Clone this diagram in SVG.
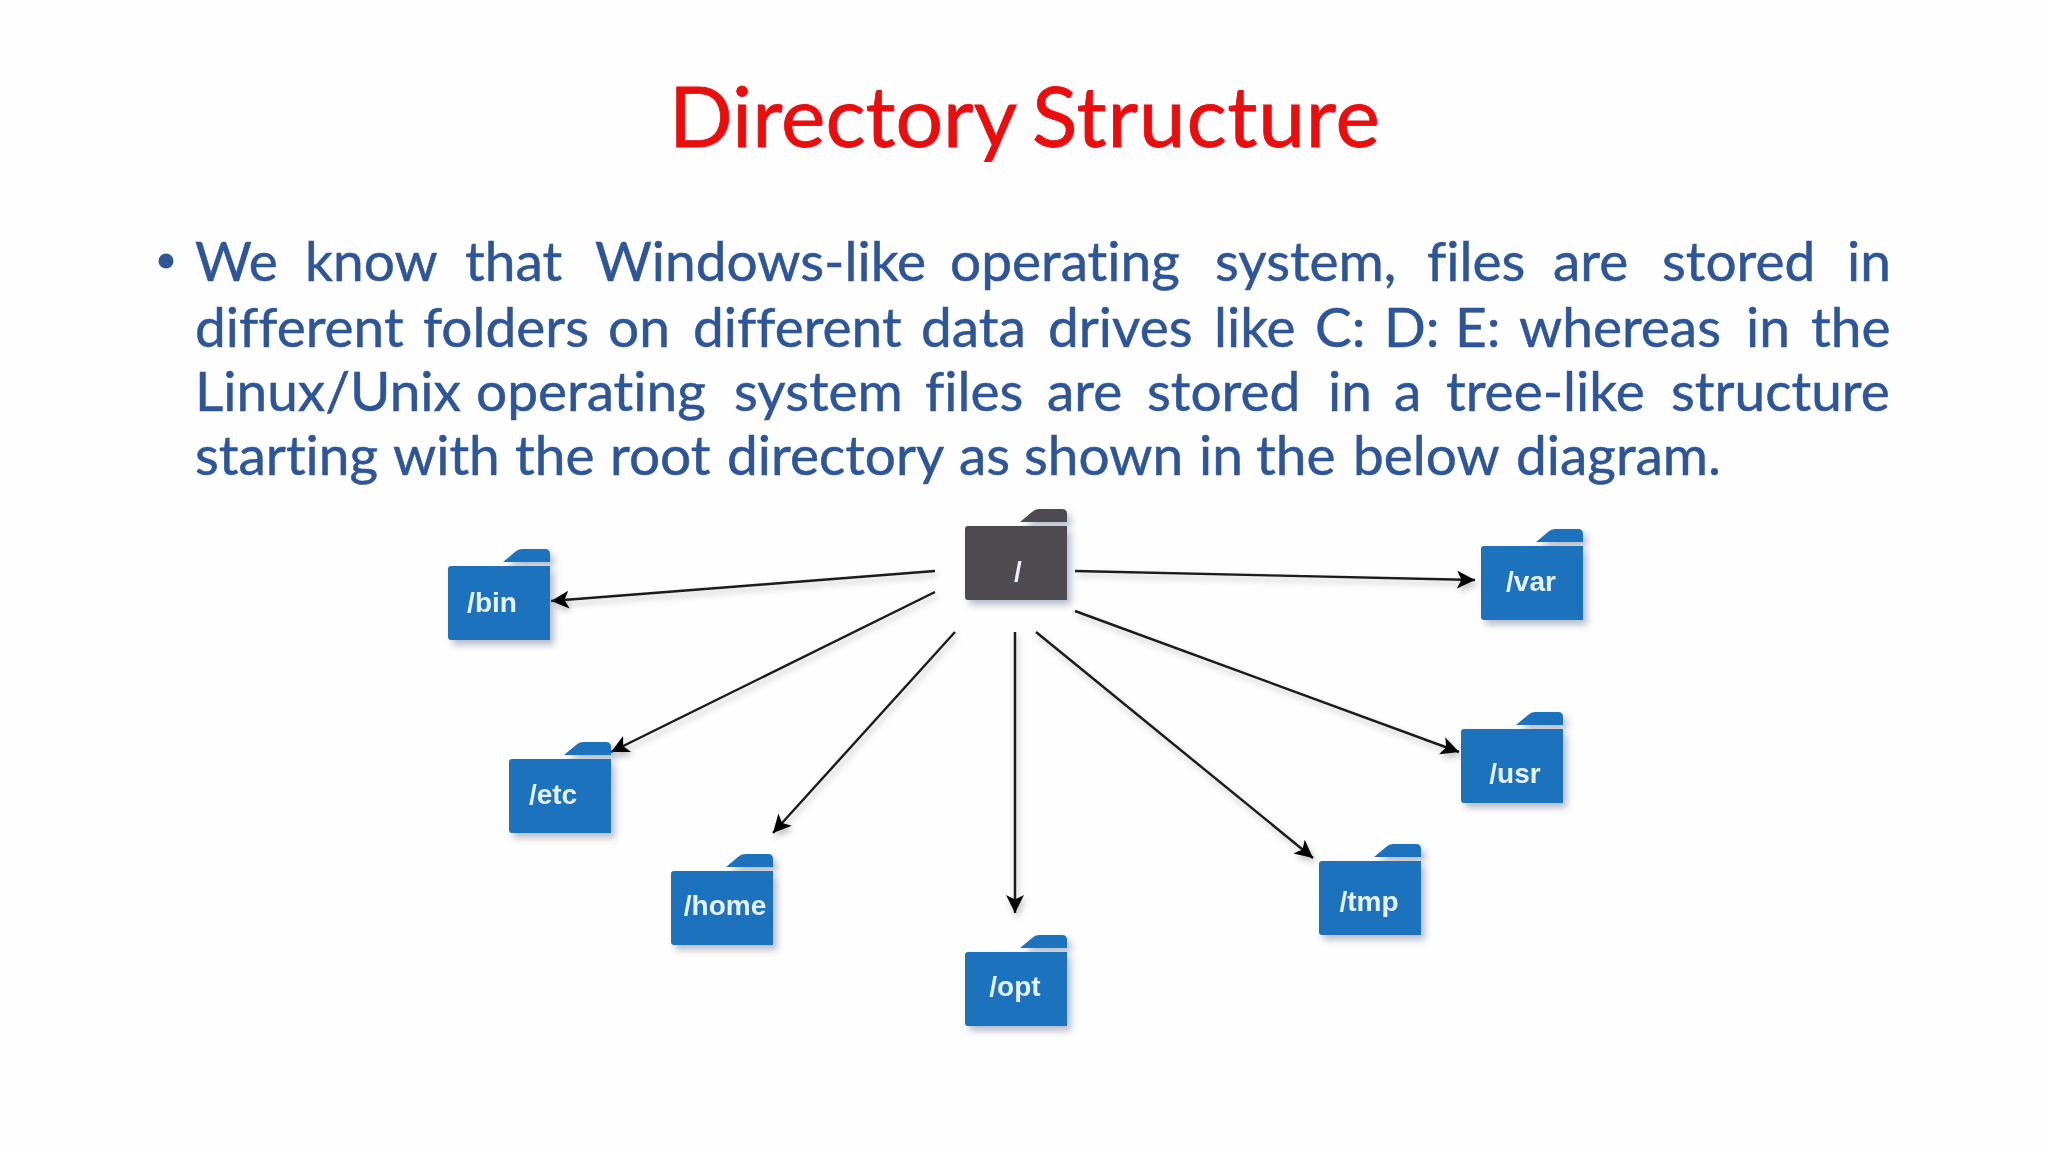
<svg xmlns="http://www.w3.org/2000/svg" width="2048" height="1152" viewBox="0 0 2048 1152">
<style>
text{font-variant-ligatures:none}
.title{font-family:Lato,"Liberation Sans",sans-serif;font-size:84px;fill:#ea0a10;stroke:#ea0a10;stroke-width:.8px;filter:url(#soft)}
.body{font-family:Lato,"Liberation Sans",sans-serif;font-size:55px;fill:#2f5597;stroke:#2f5597;stroke-width:.5px;filter:url(#soft)}
.lbl{font-family:"Liberation Sans",Arial,sans-serif;font-size:28px;font-weight:700;fill:#e6f1fa;filter:url(#soft)}
.blue{fill:#1f72bd}
.dark{fill:#4d4b4f}
.link{stroke:#1a1a1a;stroke-width:2.4;fill:none;marker-end:url(#arrow)}
</style>
<defs>
<filter id="soft" x="-2%" y="-10%" width="104%" height="120%"><feGaussianBlur stdDeviation="0.5"/></filter>
<filter id="sh" x="-20%" y="-20%" width="150%" height="150%"><feGaussianBlur in="SourceAlpha" stdDeviation="3.5"/><feOffset dx="4" dy="5"/><feComponentTransfer result="s"><feFuncA type="linear" slope="0.4"/></feComponentTransfer><feFlood flood-color="#4a5a80"/><feComposite in2="s" operator="in"/><feMerge><feMergeNode/><feMergeNode in="SourceGraphic"/></feMerge></filter>
<filter id="lsh" x="-5%" y="-5%" width="110%" height="110%"><feDropShadow dx="2" dy="4" stdDeviation="3" flood-color="#000" flood-opacity="0.25"/></filter>
<marker id="arrow" markerUnits="userSpaceOnUse" markerWidth="22" markerHeight="20" refX="18" refY="9" orient="auto"><path d="M0 0L18 9L0 18L4.5 9Z" fill="#000"/></marker>
<path id="folder" d="M3 0H102V74H3Q0 74 0 71V3Q0 0 3 0ZM55 -4L67 -14Q70 -17 74 -17H97Q102 -17 102 -12V-4Z"/>
</defs>
<rect width="2048" height="1152" fill="#fefefe"/>
<text class="title" y="147"><tspan x="669">Directory</tspan><tspan x="1032" letter-spacing="0.8">Structure</tspan></text>
<circle cx="166" cy="261" r="7.5" fill="#2f5597"/>
<text class="body" y="281"><tspan x="195">We</tspan><tspan x="305">know</tspan><tspan x="465">that</tspan><tspan x="595">Windows-like</tspan><tspan x="950">operating</tspan><tspan x="1215">system,</tspan><tspan x="1427">files</tspan><tspan x="1553">are</tspan><tspan x="1662">stored</tspan><tspan x="1847">in</tspan></text>
<text class="body" y="347"><tspan x="195">different</tspan><tspan x="423">folders</tspan><tspan x="608">on</tspan><tspan x="693">different</tspan><tspan x="921">data</tspan><tspan x="1048">drives</tspan><tspan x="1214">like</tspan><tspan x="1315">C:</tspan><tspan x="1384">D:</tspan><tspan x="1455">E:</tspan><tspan x="1519">whereas</tspan><tspan x="1746">in</tspan><tspan x="1811">the</tspan></text>
<text class="body" y="411"><tspan x="195">Linux/Unix</tspan><tspan x="476">operating</tspan><tspan x="734">system</tspan><tspan x="925">files</tspan><tspan x="1047">are</tspan><tspan x="1147">stored</tspan><tspan x="1328">in</tspan><tspan x="1394">a</tspan><tspan x="1446">tree-like</tspan><tspan x="1671">structure</tspan></text>
<text class="body" y="475"><tspan x="195">starting</tspan><tspan x="393">with</tspan><tspan x="515">the</tspan><tspan x="610">root</tspan><tspan x="727">directory</tspan><tspan x="959">as</tspan><tspan x="1024">shown</tspan><tspan x="1199">in</tspan><tspan x="1256">the</tspan><tspan x="1353">below</tspan><tspan x="1516">diagram.</tspan></text>
<g id="connectors" filter="url(#lsh)">
<line class="link" x1="935" y1="571" x2="551" y2="601"/>
<line class="link" x1="1075" y1="571" x2="1475" y2="580"/>
<line class="link" x1="935" y1="592" x2="611" y2="752"/>
<line class="link" x1="1075" y1="611" x2="1459" y2="752"/>
<line class="link" x1="955" y1="632" x2="773" y2="833"/>
<line class="link" x1="1015" y1="632" x2="1015" y2="913"/>
<line class="link" x1="1036" y1="632" x2="1313" y2="858"/>
</g>
<g id="node-root"><use href="#folder" class="dark" x="965" y="526" filter="url(#sh)"/><text class="lbl" x="1018" y="581" text-anchor="middle">/</text></g>
<g id="node-bin"><use href="#folder" class="blue" x="448" y="566" filter="url(#sh)"/><text class="lbl" x="492" y="612" text-anchor="middle">/bin</text></g>
<g id="node-var"><use href="#folder" class="blue" x="1481" y="546" filter="url(#sh)"/><text class="lbl" x="1531" y="591" text-anchor="middle">/var</text></g>
<g id="node-etc"><use href="#folder" class="blue" x="509" y="759" filter="url(#sh)"/><text class="lbl" x="553" y="804" text-anchor="middle">/etc</text></g>
<g id="node-usr"><use href="#folder" class="blue" x="1461" y="729" filter="url(#sh)"/><text class="lbl" x="1515" y="783" text-anchor="middle">/usr</text></g>
<g id="node-home"><use href="#folder" class="blue" x="671" y="871" filter="url(#sh)"/><text class="lbl" x="725" y="915" text-anchor="middle">/home</text></g>
<g id="node-tmp"><use href="#folder" class="blue" x="1319" y="861" filter="url(#sh)"/><text class="lbl" x="1369" y="911" text-anchor="middle">/tmp</text></g>
<g id="node-opt"><use href="#folder" class="blue" x="965" y="952" filter="url(#sh)"/><text class="lbl" x="1015" y="996" text-anchor="middle">/opt</text></g>
</svg>
